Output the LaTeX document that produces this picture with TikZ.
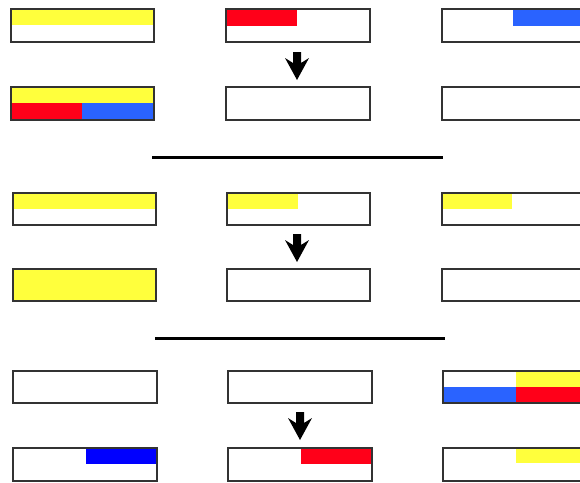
\documentclass[tikz,border=0pt]{standalone}
\definecolor{cyel}{HTML}{FFFF3C}
\definecolor{cred}{HTML}{FF0019}
\definecolor{cblu}{HTML}{2A63FF}
\definecolor{cpblu}{HTML}{0000FF}
\definecolor{cedge}{HTML}{333333}
\begin{document}
\begin{tikzpicture}[x=1pt,y=-1pt,
  boxline/.style={draw=cedge,line width=1.3pt},
  sepline/.style={draw=black,line width=3pt},
  bigarrow/.style={fill=black,draw=none}]
\useasboundingbox (0,0) rectangle (580,482);
\clip (0,0) rectangle (580,482);
% ---------- section 1 ----------
% row 1
\fill[cyel] (11,9) rectangle (154,25);
\fill[cred] (226,9) rectangle (297,26);
\fill[cblu] (513,9) rectangle (586,26);
\draw[boxline] (11,9) rectangle (154,42);
\draw[boxline] (226,9) rectangle (370,42);
\draw[boxline] (442,9) rectangle (586,42);
% row 2
\fill[cyel] (11,87) rectangle (154,103);
\fill[cred] (11,103) rectangle (82,120);
\fill[cblu] (82,103) rectangle (154,120);
\draw[boxline] (11,87) rectangle (154,120);
\draw[boxline] (226,87) rectangle (370,120);
\draw[boxline] (442,87) rectangle (586,120);
% arrow
\fill[bigarrow] (293,52) -- (301,52) -- (301,63) -- (309,58) -- (297,80) -- (285,58) -- (293,63) -- cycle;
% separator
\draw[sepline] (152,157) -- (443,157);
% ---------- section 2 ----------
\fill[cyel] (13,193) rectangle (156,209);
\fill[cyel] (228,193) rectangle (298,209);
\fill[cyel] (442,193) rectangle (512,209);
\draw[boxline] (13,193) rectangle (156,225);
\draw[boxline] (227,193) rectangle (370,225);
\draw[boxline] (442,193) rectangle (586,225);
\fill[cyel] (13,269) rectangle (156,301);
\draw[boxline] (13,269) rectangle (156,301);
\draw[boxline] (227,269) rectangle (370,301);
\draw[boxline] (442,269) rectangle (586,301);
\fill[bigarrow] (293,234) -- (301,234) -- (301,245) -- (309,240) -- (297,262) -- (285,240) -- (293,245) -- cycle;
\draw[sepline] (155,338) -- (445,338);
% ---------- section 3 ----------
\fill[cyel] (516,371) rectangle (586,387);
\fill[cblu] (443,387) rectangle (516,403);
\fill[cred] (516,387) rectangle (586,403);
\draw[boxline] (13,371) rectangle (157,403);
\draw[boxline] (228,371) rectangle (372,403);
\draw[boxline] (443,371) rectangle (587,403);
\fill[cpblu] (86,448) rectangle (157,464);
\fill[cred] (301,448) rectangle (372,464);
\fill[cyel] (516,448) rectangle (587,463);
\draw[boxline] (13,448) rectangle (157,481);
\draw[boxline] (228,448) rectangle (372,481);
\draw[boxline] (443,448) rectangle (587,481);
\fill[bigarrow] (296,412) -- (304,412) -- (304,423) -- (312,418) -- (300,440) -- (288,418) -- (296,423) -- cycle;
\end{tikzpicture}
\end{document}
